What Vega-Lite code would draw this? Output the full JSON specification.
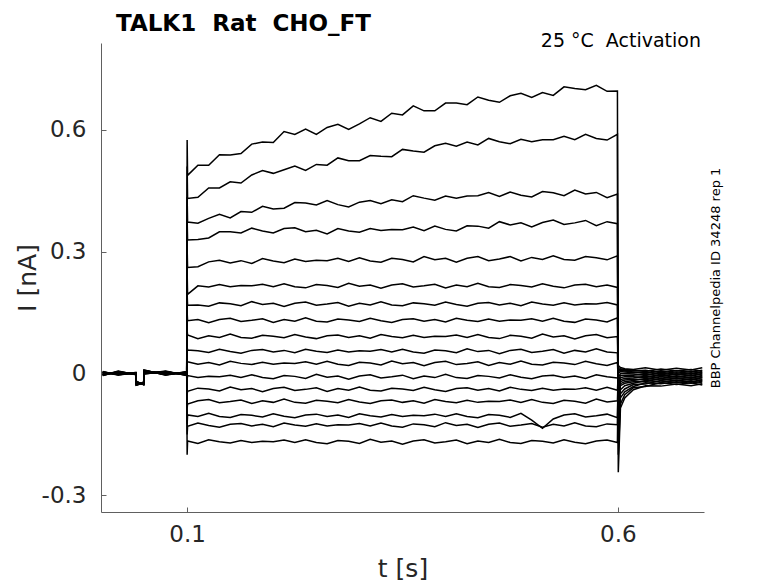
{
"$schema":"https://vega.github.io/schema/vega-lite/v6.json",
"width":603,"height":469,
"autosize":{"type":"none"},
"padding":{"left":101,"top":43,"right":74,"bottom":71},
"background":"white",
"config":{"view":{"stroke":null},"axis":{"labelFont":"DejaVu Sans","titleFont":"DejaVu Sans"}},
"title":{"text":"TALK1\u00a0 Rat\u00a0 CHO_FT","anchor":"start","frame":"group","dx":15,"dy":22,"offset":0,"baseline":"alphabetic","fontSize":23,"font":"DejaVu Sans","fontWeight":"bold","color":"black"},
"resolve":{"axis":{"y":"independent"}},
"layer":[
{"data":{"values":[
{"k":1,"t":0.002,"i":0.004},{"k":1,"t":0.02,"i":-0.003},{"k":1,"t":0.0405,"i":0.002},{"k":1,"t":0.041,"i":-0.02},{"k":1,"t":0.0495,"i":-0.027},{"k":1,"t":0.05,"i":0.008},{"k":1,"t":0.075,"i":-0.003},{"k":1,"t":0.0995,"i":0.004},{"k":1,"t":0.1,"i":0.575},
{"k":1,"t":0.1005,"i":0.488},{"k":1,"t":0.1125,"i":0.513},{"k":1,"t":0.125,"i":0.513},{"k":1,"t":0.1375,"i":0.539},{"k":1,"t":0.15,"i":0.538},{"k":1,"t":0.1625,"i":0.542},{"k":1,"t":0.175,"i":0.565},{"k":1,"t":0.1875,"i":0.57},{"k":1,"t":0.2,"i":0.569},{"k":1,"t":0.2125,"i":0.596},{"k":1,"t":0.225,"i":0.589},{"k":1,"t":0.2375,"i":0.602},{"k":1,"t":0.25,"i":0.589},{"k":1,"t":0.2625,"i":0.606},{"k":1,"t":0.275,"i":0.614},{"k":1,"t":0.2875,"i":0.601},{"k":1,"t":0.3,"i":0.615},{"k":1,"t":0.3125,"i":0.63},{"k":1,"t":0.325,"i":0.621},{"k":1,"t":0.3375,"i":0.641},{"k":1,"t":0.35,"i":0.637},{"k":1,"t":0.3625,"i":0.659},{"k":1,"t":0.375,"i":0.647},{"k":1,"t":0.3875,"i":0.647},{"k":1,"t":0.4,"i":0.666},{"k":1,"t":0.4125,"i":0.666},{"k":1,"t":0.425,"i":0.662},{"k":1,"t":0.4375,"i":0.681},{"k":1,"t":0.45,"i":0.673},{"k":1,"t":0.4625,"i":0.668},{"k":1,"t":0.475,"i":0.684},{"k":1,"t":0.4875,"i":0.69},{"k":1,"t":0.5,"i":0.68},{"k":1,"t":0.5125,"i":0.692},{"k":1,"t":0.525,"i":0.685},{"k":1,"t":0.5375,"i":0.706},{"k":1,"t":0.55,"i":0.702},{"k":1,"t":0.5625,"i":0.699},{"k":1,"t":0.575,"i":0.71},{"k":1,"t":0.5875,"i":0.695},{"k":1,"t":0.5995,"i":0.696},
{"k":1,"t":0.6005,"i":-0.243},{"k":1,"t":0.603,"i":-0.085},{"k":1,"t":0.608,"i":-0.06},{"k":1,"t":0.618,"i":-0.04},{"k":1,"t":0.632,"i":-0.03},{"k":1,"t":0.65,"i":-0.031},{"k":1,"t":0.668,"i":-0.026},{"k":1,"t":0.685,"i":-0.03},{"k":1,"t":0.698,"i":-0.025},
{"k":2,"t":0.002,"i":-0.003},{"k":2,"t":0.02,"i":0.004},{"k":2,"t":0.0405,"i":-0.002},{"k":2,"t":0.041,"i":-0.027},{"k":2,"t":0.0495,"i":-0.024},{"k":2,"t":0.05,"i":0.001},{"k":2,"t":0.075,"i":0.004},{"k":2,"t":0.0995,"i":-0.003},{"k":2,"t":0.1,"i":0.51},
{"k":2,"t":0.1005,"i":0.431},{"k":2,"t":0.1125,"i":0.434},{"k":2,"t":0.125,"i":0.457},{"k":2,"t":0.1375,"i":0.457},{"k":2,"t":0.15,"i":0.472},{"k":2,"t":0.1625,"i":0.469},{"k":2,"t":0.175,"i":0.489},{"k":2,"t":0.1875,"i":0.5},{"k":2,"t":0.2,"i":0.493},{"k":2,"t":0.2125,"i":0.502},{"k":2,"t":0.225,"i":0.511},{"k":2,"t":0.2375,"i":0.5},{"k":2,"t":0.25,"i":0.515},{"k":2,"t":0.2625,"i":0.513},{"k":2,"t":0.275,"i":0.531},{"k":2,"t":0.2875,"i":0.524},{"k":2,"t":0.3,"i":0.524},{"k":2,"t":0.3125,"i":0.537},{"k":2,"t":0.325,"i":0.535},{"k":2,"t":0.3375,"i":0.534},{"k":2,"t":0.35,"i":0.552},{"k":2,"t":0.3625,"i":0.548},{"k":2,"t":0.375,"i":0.545},{"k":2,"t":0.3875,"i":0.561},{"k":2,"t":0.4,"i":0.567},{"k":2,"t":0.4125,"i":0.56},{"k":2,"t":0.425,"i":0.57},{"k":2,"t":0.4375,"i":0.563},{"k":2,"t":0.45,"i":0.579},{"k":2,"t":0.4625,"i":0.571},{"k":2,"t":0.475,"i":0.566},{"k":2,"t":0.4875,"i":0.577},{"k":2,"t":0.5,"i":0.571},{"k":2,"t":0.5125,"i":0.576},{"k":2,"t":0.525,"i":0.576},{"k":2,"t":0.5375,"i":0.584},{"k":2,"t":0.55,"i":0.576},{"k":2,"t":0.5625,"i":0.589},{"k":2,"t":0.575,"i":0.579},{"k":2,"t":0.5875,"i":0.575},{"k":2,"t":0.5995,"i":0.589},
{"k":2,"t":0.6005,"i":-0.2},{"k":2,"t":0.603,"i":-0.075},{"k":2,"t":0.608,"i":-0.052},{"k":2,"t":0.618,"i":-0.035},{"k":2,"t":0.632,"i":-0.032},{"k":2,"t":0.65,"i":-0.022},{"k":2,"t":0.668,"i":-0.027},{"k":2,"t":0.685,"i":-0.023},{"k":2,"t":0.698,"i":-0.028},
{"k":3,"t":0.002,"i":0.002},{"k":3,"t":0.02,"i":-0.001},{"k":3,"t":0.0405,"i":0.001},{"k":3,"t":0.041,"i":-0.022},{"k":3,"t":0.0495,"i":-0.026},{"k":3,"t":0.05,"i":0.006},{"k":3,"t":0.075,"i":-0.001},{"k":3,"t":0.0995,"i":0.002},{"k":3,"t":0.1,"i":0.435},
{"k":3,"t":0.1005,"i":0.373},{"k":3,"t":0.1125,"i":0.37},{"k":3,"t":0.125,"i":0.382},{"k":3,"t":0.1375,"i":0.392},{"k":3,"t":0.15,"i":0.383},{"k":3,"t":0.1625,"i":0.399},{"k":3,"t":0.175,"i":0.397},{"k":3,"t":0.1875,"i":0.412},{"k":3,"t":0.2,"i":0.405},{"k":3,"t":0.2125,"i":0.407},{"k":3,"t":0.225,"i":0.421},{"k":3,"t":0.2375,"i":0.42},{"k":3,"t":0.25,"i":0.415},{"k":3,"t":0.2625,"i":0.426},{"k":3,"t":0.275,"i":0.416},{"k":3,"t":0.2875,"i":0.41},{"k":3,"t":0.3,"i":0.422},{"k":3,"t":0.3125,"i":0.426},{"k":3,"t":0.325,"i":0.418},{"k":3,"t":0.3375,"i":0.428},{"k":3,"t":0.35,"i":0.423},{"k":3,"t":0.3625,"i":0.438},{"k":3,"t":0.375,"i":0.432},{"k":3,"t":0.3875,"i":0.427},{"k":3,"t":0.4,"i":0.437},{"k":3,"t":0.4125,"i":0.432},{"k":3,"t":0.425,"i":0.437},{"k":3,"t":0.4375,"i":0.438},{"k":3,"t":0.45,"i":0.446},{"k":3,"t":0.4625,"i":0.436},{"k":3,"t":0.475,"i":0.447},{"k":3,"t":0.4875,"i":0.439},{"k":3,"t":0.5,"i":0.435},{"k":3,"t":0.5125,"i":0.448},{"k":3,"t":0.525,"i":0.445},{"k":3,"t":0.5375,"i":0.438},{"k":3,"t":0.55,"i":0.452},{"k":3,"t":0.5625,"i":0.442},{"k":3,"t":0.575,"i":0.446},{"k":3,"t":0.5875,"i":0.433},{"k":3,"t":0.5995,"i":0.442},
{"k":3,"t":0.6005,"i":-0.16},{"k":3,"t":0.603,"i":-0.06},{"k":3,"t":0.608,"i":-0.045},{"k":3,"t":0.618,"i":-0.032},{"k":3,"t":0.632,"i":-0.023},{"k":3,"t":0.65,"i":-0.025},{"k":3,"t":0.668,"i":-0.02},{"k":3,"t":0.685,"i":-0.024},{"k":3,"t":0.698,"i":-0.019},
{"k":4,"t":0.002,"i":-0.005},{"k":4,"t":0.02,"i":0.006},{"k":4,"t":0.0405,"i":-0.003},{"k":4,"t":0.041,"i":-0.029},{"k":4,"t":0.0495,"i":-0.023},{"k":4,"t":0.05,"i":-0.001},{"k":4,"t":0.075,"i":0.006},{"k":4,"t":0.0995,"i":-0.005},{"k":4,"t":0.1,"i":0.38},
{"k":4,"t":0.1005,"i":0.329},{"k":4,"t":0.1125,"i":0.33},{"k":4,"t":0.125,"i":0.334},{"k":4,"t":0.1375,"i":0.349},{"k":4,"t":0.15,"i":0.349},{"k":4,"t":0.1625,"i":0.346},{"k":4,"t":0.175,"i":0.358},{"k":4,"t":0.1875,"i":0.351},{"k":4,"t":0.2,"i":0.346},{"k":4,"t":0.2125,"i":0.357},{"k":4,"t":0.225,"i":0.359},{"k":4,"t":0.2375,"i":0.349},{"k":4,"t":0.25,"i":0.353},{"k":4,"t":0.2625,"i":0.344},{"k":4,"t":0.275,"i":0.357},{"k":4,"t":0.2875,"i":0.351},{"k":4,"t":0.3,"i":0.348},{"k":4,"t":0.3125,"i":0.357},{"k":4,"t":0.325,"i":0.352},{"k":4,"t":0.3375,"i":0.355},{"k":4,"t":0.35,"i":0.354},{"k":4,"t":0.3625,"i":0.361},{"k":4,"t":0.375,"i":0.352},{"k":4,"t":0.3875,"i":0.363},{"k":4,"t":0.4,"i":0.355},{"k":4,"t":0.4125,"i":0.351},{"k":4,"t":0.425,"i":0.364},{"k":4,"t":0.4375,"i":0.363},{"k":4,"t":0.45,"i":0.358},{"k":4,"t":0.4625,"i":0.374},{"k":4,"t":0.475,"i":0.366},{"k":4,"t":0.4875,"i":0.371},{"k":4,"t":0.5,"i":0.361},{"k":4,"t":0.5125,"i":0.372},{"k":4,"t":0.525,"i":0.378},{"k":4,"t":0.5375,"i":0.367},{"k":4,"t":0.55,"i":0.371},{"k":4,"t":0.5625,"i":0.377},{"k":4,"t":0.575,"i":0.364},{"k":4,"t":0.5875,"i":0.374},{"k":4,"t":0.5995,"i":0.369},
{"k":4,"t":0.6005,"i":-0.13},{"k":4,"t":0.603,"i":-0.05},{"k":4,"t":0.608,"i":-0.038},{"k":4,"t":0.618,"i":-0.027},{"k":4,"t":0.632,"i":-0.026},{"k":4,"t":0.65,"i":-0.017},{"k":4,"t":0.668,"i":-0.022},{"k":4,"t":0.685,"i":-0.018},{"k":4,"t":0.698,"i":-0.023},
{"k":5,"t":0.002,"i":0.005},{"k":5,"t":0.02,"i":-0.004},{"k":5,"t":0.0405,"i":0.003},{"k":5,"t":0.041,"i":-0.019},{"k":5,"t":0.0495,"i":-0.028},{"k":5,"t":0.05,"i":0.009},{"k":5,"t":0.075,"i":-0.004},{"k":5,"t":0.0995,"i":0.005},{"k":5,"t":0.1,"i":0.31},
{"k":5,"t":0.1005,"i":0.261},{"k":5,"t":0.1125,"i":0.263},{"k":5,"t":0.125,"i":0.275},{"k":5,"t":0.1375,"i":0.279},{"k":5,"t":0.15,"i":0.272},{"k":5,"t":0.1625,"i":0.278},{"k":5,"t":0.175,"i":0.271},{"k":5,"t":0.1875,"i":0.283},{"k":5,"t":0.2,"i":0.277},{"k":5,"t":0.2125,"i":0.273},{"k":5,"t":0.225,"i":0.282},{"k":5,"t":0.2375,"i":0.276},{"k":5,"t":0.25,"i":0.279},{"k":5,"t":0.2625,"i":0.278},{"k":5,"t":0.275,"i":0.284},{"k":5,"t":0.2875,"i":0.276},{"k":5,"t":0.3,"i":0.285},{"k":5,"t":0.3125,"i":0.277},{"k":5,"t":0.325,"i":0.274},{"k":5,"t":0.3375,"i":0.284},{"k":5,"t":0.35,"i":0.281},{"k":5,"t":0.3625,"i":0.275},{"k":5,"t":0.375,"i":0.288},{"k":5,"t":0.3875,"i":0.28},{"k":5,"t":0.4,"i":0.284},{"k":5,"t":0.4125,"i":0.274},{"k":5,"t":0.425,"i":0.284},{"k":5,"t":0.4375,"i":0.288},{"k":5,"t":0.45,"i":0.278},{"k":5,"t":0.4625,"i":0.282},{"k":5,"t":0.475,"i":0.288},{"k":5,"t":0.4875,"i":0.277},{"k":5,"t":0.5,"i":0.286},{"k":5,"t":0.5125,"i":0.281},{"k":5,"t":0.525,"i":0.29},{"k":5,"t":0.5375,"i":0.281},{"k":5,"t":0.55,"i":0.279},{"k":5,"t":0.5625,"i":0.288},{"k":5,"t":0.575,"i":0.285},{"k":5,"t":0.5875,"i":0.28},{"k":5,"t":0.5995,"i":0.29},
{"k":5,"t":0.6005,"i":-0.1},{"k":5,"t":0.603,"i":-0.04},{"k":5,"t":0.608,"i":-0.03},{"k":5,"t":0.618,"i":-0.024},{"k":5,"t":0.632,"i":-0.017},{"k":5,"t":0.65,"i":-0.021},{"k":5,"t":0.668,"i":-0.016},{"k":5,"t":0.685,"i":-0.02},{"k":5,"t":0.698,"i":-0.015},
{"k":6,"t":0.002,"i":0},{"k":6,"t":0.02,"i":0.001},{"k":6,"t":0.0405,"i":0},{"k":6,"t":0.041,"i":-0.024},{"k":6,"t":0.0495,"i":-0.025},{"k":6,"t":0.05,"i":0.004},{"k":6,"t":0.075,"i":0.001},{"k":6,"t":0.0995,"i":0},{"k":6,"t":0.1,"i":0.25},
{"k":6,"t":0.1005,"i":0.195},{"k":6,"t":0.1125,"i":0.216},{"k":6,"t":0.125,"i":0.213},{"k":6,"t":0.1375,"i":0.219},{"k":6,"t":0.15,"i":0.214},{"k":6,"t":0.1625,"i":0.217},{"k":6,"t":0.175,"i":0.216},{"k":6,"t":0.1875,"i":0.22},{"k":6,"t":0.2,"i":0.214},{"k":6,"t":0.2125,"i":0.221},{"k":6,"t":0.225,"i":0.214},{"k":6,"t":0.2375,"i":0.211},{"k":6,"t":0.25,"i":0.219},{"k":6,"t":0.2625,"i":0.217},{"k":6,"t":0.275,"i":0.212},{"k":6,"t":0.2875,"i":0.222},{"k":6,"t":0.3,"i":0.215},{"k":6,"t":0.3125,"i":0.218},{"k":6,"t":0.325,"i":0.21},{"k":6,"t":0.3375,"i":0.218},{"k":6,"t":0.35,"i":0.221},{"k":6,"t":0.3625,"i":0.213},{"k":6,"t":0.375,"i":0.216},{"k":6,"t":0.3875,"i":0.22},{"k":6,"t":0.4,"i":0.211},{"k":6,"t":0.4125,"i":0.218},{"k":6,"t":0.425,"i":0.214},{"k":6,"t":0.4375,"i":0.222},{"k":6,"t":0.45,"i":0.214},{"k":6,"t":0.4625,"i":0.212},{"k":6,"t":0.475,"i":0.219},{"k":6,"t":0.4875,"i":0.217},{"k":6,"t":0.5,"i":0.213},{"k":6,"t":0.5125,"i":0.221},{"k":6,"t":0.525,"i":0.215},{"k":6,"t":0.5375,"i":0.211},{"k":6,"t":0.55,"i":0.218},{"k":6,"t":0.5625,"i":0.22},{"k":6,"t":0.575,"i":0.214},{"k":6,"t":0.5875,"i":0.218},{"k":6,"t":0.5995,"i":0.212},
{"k":6,"t":0.6005,"i":-0.08},{"k":6,"t":0.603,"i":-0.03},{"k":6,"t":0.608,"i":-0.024},{"k":6,"t":0.618,"i":-0.02},{"k":6,"t":0.632,"i":-0.02},{"k":6,"t":0.65,"i":-0.012},{"k":6,"t":0.668,"i":-0.017},{"k":6,"t":0.685,"i":-0.013},{"k":6,"t":0.698,"i":-0.018},
{"k":7,"t":0.002,"i":-0.002},{"k":7,"t":0.02,"i":0.003},{"k":7,"t":0.0405,"i":-0.001},{"k":7,"t":0.041,"i":-0.026},{"k":7,"t":0.0495,"i":-0.024},{"k":7,"t":0.05,"i":0.002},{"k":7,"t":0.075,"i":0.003},{"k":7,"t":0.0995,"i":-0.002},{"k":7,"t":0.1,"i":0.195},
{"k":7,"t":0.1005,"i":0.168},{"k":7,"t":0.1125,"i":0.169},{"k":7,"t":0.125,"i":0.166},{"k":7,"t":0.1375,"i":0.174},{"k":7,"t":0.15,"i":0.172},{"k":7,"t":0.1625,"i":0.167},{"k":7,"t":0.175,"i":0.177},{"k":7,"t":0.1875,"i":0.17},{"k":7,"t":0.2,"i":0.173},{"k":7,"t":0.2125,"i":0.165},{"k":7,"t":0.225,"i":0.173},{"k":7,"t":0.2375,"i":0.176},{"k":7,"t":0.25,"i":0.168},{"k":7,"t":0.2625,"i":0.171},{"k":7,"t":0.275,"i":0.175},{"k":7,"t":0.2875,"i":0.166},{"k":7,"t":0.3,"i":0.173},{"k":7,"t":0.3125,"i":0.169},{"k":7,"t":0.325,"i":0.177},{"k":7,"t":0.3375,"i":0.169},{"k":7,"t":0.35,"i":0.167},{"k":7,"t":0.3625,"i":0.174},{"k":7,"t":0.375,"i":0.172},{"k":7,"t":0.3875,"i":0.168},{"k":7,"t":0.4,"i":0.176},{"k":7,"t":0.4125,"i":0.17},{"k":7,"t":0.425,"i":0.166},{"k":7,"t":0.4375,"i":0.173},{"k":7,"t":0.45,"i":0.175},{"k":7,"t":0.4625,"i":0.169},{"k":7,"t":0.475,"i":0.173},{"k":7,"t":0.4875,"i":0.167},{"k":7,"t":0.5,"i":0.176},{"k":7,"t":0.5125,"i":0.171},{"k":7,"t":0.525,"i":0.168},{"k":7,"t":0.5375,"i":0.174},{"k":7,"t":0.55,"i":0.169},{"k":7,"t":0.5625,"i":0.172},{"k":7,"t":0.575,"i":0.171},{"k":7,"t":0.5875,"i":0.175},{"k":7,"t":0.5995,"i":0.169},
{"k":7,"t":0.6005,"i":-0.06},{"k":7,"t":0.603,"i":-0.025},{"k":7,"t":0.608,"i":-0.02},{"k":7,"t":0.618,"i":-0.017},{"k":7,"t":0.632,"i":-0.012},{"k":7,"t":0.65,"i":-0.016},{"k":7,"t":0.668,"i":-0.011},{"k":7,"t":0.685,"i":-0.015},{"k":7,"t":0.698,"i":-0.01},
{"k":8,"t":0.002,"i":0.003},{"k":8,"t":0.02,"i":-0.002},{"k":8,"t":0.0405,"i":0.002},{"k":8,"t":0.041,"i":-0.021},{"k":8,"t":0.0495,"i":-0.027},{"k":8,"t":0.05,"i":0.007},{"k":8,"t":0.075,"i":-0.002},{"k":8,"t":0.0995,"i":0.003},{"k":8,"t":0.1,"i":0.15},
{"k":8,"t":0.1005,"i":0.13},{"k":8,"t":0.1125,"i":0.133},{"k":8,"t":0.125,"i":0.125},{"k":8,"t":0.1375,"i":0.133},{"k":8,"t":0.15,"i":0.136},{"k":8,"t":0.1625,"i":0.128},{"k":8,"t":0.175,"i":0.131},{"k":8,"t":0.1875,"i":0.135},{"k":8,"t":0.2,"i":0.126},{"k":8,"t":0.2125,"i":0.133},{"k":8,"t":0.225,"i":0.129},{"k":8,"t":0.2375,"i":0.137},{"k":8,"t":0.25,"i":0.129},{"k":8,"t":0.2625,"i":0.127},{"k":8,"t":0.275,"i":0.134},{"k":8,"t":0.2875,"i":0.132},{"k":8,"t":0.3,"i":0.128},{"k":8,"t":0.3125,"i":0.136},{"k":8,"t":0.325,"i":0.13},{"k":8,"t":0.3375,"i":0.126},{"k":8,"t":0.35,"i":0.133},{"k":8,"t":0.3625,"i":0.135},{"k":8,"t":0.375,"i":0.129},{"k":8,"t":0.3875,"i":0.133},{"k":8,"t":0.4,"i":0.127},{"k":8,"t":0.4125,"i":0.136},{"k":8,"t":0.425,"i":0.131},{"k":8,"t":0.4375,"i":0.128},{"k":8,"t":0.45,"i":0.134},{"k":8,"t":0.4625,"i":0.129},{"k":8,"t":0.475,"i":0.132},{"k":8,"t":0.4875,"i":0.131},{"k":8,"t":0.5,"i":0.135},{"k":8,"t":0.5125,"i":0.129},{"k":8,"t":0.525,"i":0.136},{"k":8,"t":0.5375,"i":0.129},{"k":8,"t":0.55,"i":0.126},{"k":8,"t":0.5625,"i":0.134},{"k":8,"t":0.575,"i":0.132},{"k":8,"t":0.5875,"i":0.127},{"k":8,"t":0.5995,"i":0.137},
{"k":8,"t":0.6005,"i":-0.05},{"k":8,"t":0.603,"i":-0.02},{"k":8,"t":0.608,"i":-0.016},{"k":8,"t":0.618,"i":-0.014},{"k":8,"t":0.632,"i":-0.015},{"k":8,"t":0.65,"i":-0.008},{"k":8,"t":0.668,"i":-0.013},{"k":8,"t":0.685,"i":-0.009},{"k":8,"t":0.698,"i":-0.014},
{"k":9,"t":0.002,"i":-0.004},{"k":9,"t":0.02,"i":0.005},{"k":9,"t":0.0405,"i":-0.002},{"k":9,"t":0.041,"i":-0.028},{"k":9,"t":0.0495,"i":-0.023},{"k":9,"t":0.05,"i":0},{"k":9,"t":0.075,"i":0.005},{"k":9,"t":0.0995,"i":-0.004},{"k":9,"t":0.1,"i":0.105},
{"k":9,"t":0.1005,"i":0.095},{"k":9,"t":0.1125,"i":0.086},{"k":9,"t":0.125,"i":0.093},{"k":9,"t":0.1375,"i":0.089},{"k":9,"t":0.15,"i":0.097},{"k":9,"t":0.1625,"i":0.089},{"k":9,"t":0.175,"i":0.087},{"k":9,"t":0.1875,"i":0.094},{"k":9,"t":0.2,"i":0.092},{"k":9,"t":0.2125,"i":0.088},{"k":9,"t":0.225,"i":0.096},{"k":9,"t":0.2375,"i":0.09},{"k":9,"t":0.25,"i":0.086},{"k":9,"t":0.2625,"i":0.093},{"k":9,"t":0.275,"i":0.095},{"k":9,"t":0.2875,"i":0.089},{"k":9,"t":0.3,"i":0.093},{"k":9,"t":0.3125,"i":0.087},{"k":9,"t":0.325,"i":0.096},{"k":9,"t":0.3375,"i":0.091},{"k":9,"t":0.35,"i":0.088},{"k":9,"t":0.3625,"i":0.094},{"k":9,"t":0.375,"i":0.089},{"k":9,"t":0.3875,"i":0.092},{"k":9,"t":0.4,"i":0.091},{"k":9,"t":0.4125,"i":0.095},{"k":9,"t":0.425,"i":0.089},{"k":9,"t":0.4375,"i":0.096},{"k":9,"t":0.45,"i":0.089},{"k":9,"t":0.4625,"i":0.086},{"k":9,"t":0.475,"i":0.094},{"k":9,"t":0.4875,"i":0.092},{"k":9,"t":0.5,"i":0.087},{"k":9,"t":0.5125,"i":0.097},{"k":9,"t":0.525,"i":0.09},{"k":9,"t":0.5375,"i":0.093},{"k":9,"t":0.55,"i":0.085},{"k":9,"t":0.5625,"i":0.093},{"k":9,"t":0.575,"i":0.096},{"k":9,"t":0.5875,"i":0.088},{"k":9,"t":0.5995,"i":0.091},
{"k":9,"t":0.6005,"i":-0.04},{"k":9,"t":0.603,"i":-0.015},{"k":9,"t":0.608,"i":-0.012},{"k":9,"t":0.618,"i":-0.011},{"k":9,"t":0.632,"i":-0.007},{"k":9,"t":0.65,"i":-0.012},{"k":9,"t":0.668,"i":-0.007},{"k":9,"t":0.685,"i":-0.011},{"k":9,"t":0.698,"i":-0.006},
{"k":10,"t":0.002,"i":0.001},{"k":10,"t":0.02,"i":0},{"k":10,"t":0.0405,"i":0.001},{"k":10,"t":0.041,"i":-0.023},{"k":10,"t":0.0495,"i":-0.026},{"k":10,"t":0.05,"i":0.005},{"k":10,"t":0.075,"i":0},{"k":10,"t":0.0995,"i":0.001},{"k":10,"t":0.1,"i":0.065},
{"k":10,"t":0.1005,"i":0.058},{"k":10,"t":0.1125,"i":0.056},{"k":10,"t":0.125,"i":0.052},{"k":10,"t":0.1375,"i":0.06},{"k":10,"t":0.15,"i":0.054},{"k":10,"t":0.1625,"i":0.05},{"k":10,"t":0.175,"i":0.057},{"k":10,"t":0.1875,"i":0.059},{"k":10,"t":0.2,"i":0.053},{"k":10,"t":0.2125,"i":0.057},{"k":10,"t":0.225,"i":0.051},{"k":10,"t":0.2375,"i":0.06},{"k":10,"t":0.25,"i":0.055},{"k":10,"t":0.2625,"i":0.052},{"k":10,"t":0.275,"i":0.058},{"k":10,"t":0.2875,"i":0.053},{"k":10,"t":0.3,"i":0.056},{"k":10,"t":0.3125,"i":0.055},{"k":10,"t":0.325,"i":0.059},{"k":10,"t":0.3375,"i":0.053},{"k":10,"t":0.35,"i":0.06},{"k":10,"t":0.3625,"i":0.053},{"k":10,"t":0.375,"i":0.05},{"k":10,"t":0.3875,"i":0.058},{"k":10,"t":0.4,"i":0.056},{"k":10,"t":0.4125,"i":0.051},{"k":10,"t":0.425,"i":0.061},{"k":10,"t":0.4375,"i":0.054},{"k":10,"t":0.45,"i":0.057},{"k":10,"t":0.4625,"i":0.049},{"k":10,"t":0.475,"i":0.057},{"k":10,"t":0.4875,"i":0.06},{"k":10,"t":0.5,"i":0.052},{"k":10,"t":0.5125,"i":0.055},{"k":10,"t":0.525,"i":0.059},{"k":10,"t":0.5375,"i":0.05},{"k":10,"t":0.55,"i":0.057},{"k":10,"t":0.5625,"i":0.053},{"k":10,"t":0.575,"i":0.061},{"k":10,"t":0.5875,"i":0.053},{"k":10,"t":0.5995,"i":0.051},
{"k":10,"t":0.6005,"i":-0.03},{"k":10,"t":0.603,"i":-0.01},{"k":10,"t":0.608,"i":-0.008},{"k":10,"t":0.618,"i":-0.008},{"k":10,"t":0.632,"i":-0.01},{"k":10,"t":0.65,"i":-0.004},{"k":10,"t":0.668,"i":-0.009},{"k":10,"t":0.685,"i":-0.005},{"k":10,"t":0.698,"i":-0.01},
{"k":11,"t":0.002,"i":-0.001},{"k":11,"t":0.02,"i":0.002},{"k":11,"t":0.0405,"i":0},{"k":11,"t":0.041,"i":-0.025},{"k":11,"t":0.0495,"i":-0.025},{"k":11,"t":0.05,"i":0.003},{"k":11,"t":0.075,"i":0.002},{"k":11,"t":0.0995,"i":-0.001},{"k":11,"t":0.1,"i":0.03},
{"k":11,"t":0.1005,"i":0.029},{"k":11,"t":0.1125,"i":0.023},{"k":11,"t":0.125,"i":0.027},{"k":11,"t":0.1375,"i":0.021},{"k":11,"t":0.15,"i":0.03},{"k":11,"t":0.1625,"i":0.025},{"k":11,"t":0.175,"i":0.022},{"k":11,"t":0.1875,"i":0.028},{"k":11,"t":0.2,"i":0.023},{"k":11,"t":0.2125,"i":0.026},{"k":11,"t":0.225,"i":0.025},{"k":11,"t":0.2375,"i":0.029},{"k":11,"t":0.25,"i":0.023},{"k":11,"t":0.2625,"i":0.03},{"k":11,"t":0.275,"i":0.023},{"k":11,"t":0.2875,"i":0.02},{"k":11,"t":0.3,"i":0.028},{"k":11,"t":0.3125,"i":0.026},{"k":11,"t":0.325,"i":0.021},{"k":11,"t":0.3375,"i":0.031},{"k":11,"t":0.35,"i":0.024},{"k":11,"t":0.3625,"i":0.027},{"k":11,"t":0.375,"i":0.019},{"k":11,"t":0.3875,"i":0.027},{"k":11,"t":0.4,"i":0.03},{"k":11,"t":0.4125,"i":0.022},{"k":11,"t":0.425,"i":0.025},{"k":11,"t":0.4375,"i":0.029},{"k":11,"t":0.45,"i":0.02},{"k":11,"t":0.4625,"i":0.027},{"k":11,"t":0.475,"i":0.023},{"k":11,"t":0.4875,"i":0.031},{"k":11,"t":0.5,"i":0.023},{"k":11,"t":0.5125,"i":0.021},{"k":11,"t":0.525,"i":0.028},{"k":11,"t":0.5375,"i":0.026},{"k":11,"t":0.55,"i":0.022},{"k":11,"t":0.5625,"i":0.03},{"k":11,"t":0.575,"i":0.024},{"k":11,"t":0.5875,"i":0.02},{"k":11,"t":0.5995,"i":0.027},
{"k":11,"t":0.6005,"i":-0.02},{"k":11,"t":0.603,"i":-0.005},{"k":11,"t":0.608,"i":-0.004},{"k":11,"t":0.618,"i":-0.004},{"k":11,"t":0.632,"i":-0.001},{"k":11,"t":0.65,"i":-0.007},{"k":11,"t":0.668,"i":-0.002},{"k":11,"t":0.685,"i":-0.006},{"k":11,"t":0.698,"i":-0.001},
{"k":12,"t":0.002,"i":0.004},{"k":12,"t":0.02,"i":-0.002},{"k":12,"t":0.0405,"i":0.001},{"k":12,"t":0.041,"i":-0.021},{"k":12,"t":0.0495,"i":-0.026},{"k":12,"t":0.05,"i":0.007},{"k":12,"t":0.075,"i":-0.003},{"k":12,"t":0.0995,"i":0.003},{"k":12,"t":0.1,"i":-0.015},
{"k":12,"t":0.1005,"i":-0.005},{"k":12,"t":0.1125,"i":-0.01},{"k":12,"t":0.125,"i":-0.007},{"k":12,"t":0.1375,"i":-0.008},{"k":12,"t":0.15,"i":-0.004},{"k":12,"t":0.1625,"i":-0.01},{"k":12,"t":0.175,"i":-0.003},{"k":12,"t":0.1875,"i":-0.01},{"k":12,"t":0.2,"i":-0.013},{"k":12,"t":0.2125,"i":-0.005},{"k":12,"t":0.225,"i":-0.007},{"k":12,"t":0.2375,"i":-0.012},{"k":12,"t":0.25,"i":-0.002},{"k":12,"t":0.2625,"i":-0.009},{"k":12,"t":0.275,"i":-0.006},{"k":12,"t":0.2875,"i":-0.014},{"k":12,"t":0.3,"i":-0.006},{"k":12,"t":0.3125,"i":-0.003},{"k":12,"t":0.325,"i":-0.011},{"k":12,"t":0.3375,"i":-0.008},{"k":12,"t":0.35,"i":-0.004},{"k":12,"t":0.3625,"i":-0.013},{"k":12,"t":0.375,"i":-0.006},{"k":12,"t":0.3875,"i":-0.01},{"k":12,"t":0.4,"i":-0.002},{"k":12,"t":0.4125,"i":-0.01},{"k":12,"t":0.425,"i":-0.012},{"k":12,"t":0.4375,"i":-0.005},{"k":12,"t":0.45,"i":-0.007},{"k":12,"t":0.4625,"i":-0.011},{"k":12,"t":0.475,"i":-0.003},{"k":12,"t":0.4875,"i":-0.009},{"k":12,"t":0.5,"i":-0.013},{"k":12,"t":0.5125,"i":-0.006},{"k":12,"t":0.525,"i":-0.004},{"k":12,"t":0.5375,"i":-0.01},{"k":12,"t":0.55,"i":-0.006},{"k":12,"t":0.5625,"i":-0.012},{"k":12,"t":0.575,"i":-0.003},{"k":12,"t":0.5875,"i":-0.008},{"k":12,"t":0.5995,"i":-0.011},
{"k":12,"t":0.6005,"i":-0.01},{"k":12,"t":0.603,"i":0},{"k":12,"t":0.608,"i":0},{"k":12,"t":0.618,"i":-0.001},{"k":12,"t":0.632,"i":-0.005},{"k":12,"t":0.65,"i":0.001},{"k":12,"t":0.668,"i":-0.004},{"k":12,"t":0.685,"i":0},{"k":12,"t":0.698,"i":-0.005},
{"k":13,"t":0.002,"i":-0.003},{"k":13,"t":0.02,"i":0.003},{"k":13,"t":0.0405,"i":-0.001},{"k":13,"t":0.041,"i":-0.027},{"k":13,"t":0.0495,"i":-0.023},{"k":13,"t":0.05,"i":0.002},{"k":13,"t":0.075,"i":0.004},{"k":13,"t":0.0995,"i":-0.002},{"k":13,"t":0.1,"i":-0.05},
{"k":13,"t":0.1005,"i":-0.044},{"k":13,"t":0.1125,"i":-0.036},{"k":13,"t":0.125,"i":-0.038},{"k":13,"t":0.1375,"i":-0.043},{"k":13,"t":0.15,"i":-0.033},{"k":13,"t":0.1625,"i":-0.04},{"k":13,"t":0.175,"i":-0.037},{"k":13,"t":0.1875,"i":-0.045},{"k":13,"t":0.2,"i":-0.037},{"k":13,"t":0.2125,"i":-0.034},{"k":13,"t":0.225,"i":-0.042},{"k":13,"t":0.2375,"i":-0.039},{"k":13,"t":0.25,"i":-0.035},{"k":13,"t":0.2625,"i":-0.044},{"k":13,"t":0.275,"i":-0.037},{"k":13,"t":0.2875,"i":-0.041},{"k":13,"t":0.3,"i":-0.033},{"k":13,"t":0.3125,"i":-0.041},{"k":13,"t":0.325,"i":-0.043},{"k":13,"t":0.3375,"i":-0.036},{"k":13,"t":0.35,"i":-0.038},{"k":13,"t":0.3625,"i":-0.042},{"k":13,"t":0.375,"i":-0.034},{"k":13,"t":0.3875,"i":-0.04},{"k":13,"t":0.4,"i":-0.044},{"k":13,"t":0.4125,"i":-0.037},{"k":13,"t":0.425,"i":-0.035},{"k":13,"t":0.4375,"i":-0.041},{"k":13,"t":0.45,"i":-0.037},{"k":13,"t":0.4625,"i":-0.043},{"k":13,"t":0.475,"i":-0.034},{"k":13,"t":0.4875,"i":-0.039},{"k":13,"t":0.5,"i":-0.042},{"k":13,"t":0.5125,"i":-0.036},{"k":13,"t":0.525,"i":-0.041},{"k":13,"t":0.5375,"i":-0.038},{"k":13,"t":0.55,"i":-0.039},{"k":13,"t":0.5625,"i":-0.035},{"k":13,"t":0.575,"i":-0.041},{"k":13,"t":0.5875,"i":-0.034},{"k":13,"t":0.5995,"i":-0.041},
{"k":13,"t":0.6005,"i":0},{"k":13,"t":0.603,"i":0.005},{"k":13,"t":0.608,"i":0.004},{"k":13,"t":0.618,"i":0.002},{"k":13,"t":0.632,"i":0.004},{"k":13,"t":0.65,"i":-0.003},{"k":13,"t":0.668,"i":0.002},{"k":13,"t":0.685,"i":-0.002},{"k":13,"t":0.698,"i":0.003},
{"k":14,"t":0.002,"i":0.002},{"k":14,"t":0.02,"i":-0.002},{"k":14,"t":0.0405,"i":0.002},{"k":14,"t":0.041,"i":-0.023},{"k":14,"t":0.0495,"i":-0.026},{"k":14,"t":0.05,"i":0.005},{"k":14,"t":0.075,"i":-0.001},{"k":14,"t":0.0995,"i":0.003},{"k":14,"t":0.1,"i":-0.085},
{"k":14,"t":0.1005,"i":-0.075},{"k":14,"t":0.1125,"i":-0.067},{"k":14,"t":0.125,"i":-0.064},{"k":14,"t":0.1375,"i":-0.072},{"k":14,"t":0.15,"i":-0.069},{"k":14,"t":0.1625,"i":-0.065},{"k":14,"t":0.175,"i":-0.074},{"k":14,"t":0.1875,"i":-0.067},{"k":14,"t":0.2,"i":-0.071},{"k":14,"t":0.2125,"i":-0.063},{"k":14,"t":0.225,"i":-0.071},{"k":14,"t":0.2375,"i":-0.073},{"k":14,"t":0.25,"i":-0.066},{"k":14,"t":0.2625,"i":-0.068},{"k":14,"t":0.275,"i":-0.072},{"k":14,"t":0.2875,"i":-0.064},{"k":14,"t":0.3,"i":-0.07},{"k":14,"t":0.3125,"i":-0.074},{"k":14,"t":0.325,"i":-0.067},{"k":14,"t":0.3375,"i":-0.065},{"k":14,"t":0.35,"i":-0.071},{"k":14,"t":0.3625,"i":-0.067},{"k":14,"t":0.375,"i":-0.073},{"k":14,"t":0.3875,"i":-0.064},{"k":14,"t":0.4,"i":-0.069},{"k":14,"t":0.4125,"i":-0.072},{"k":14,"t":0.425,"i":-0.066},{"k":14,"t":0.4375,"i":-0.071},{"k":14,"t":0.45,"i":-0.068},{"k":14,"t":0.4625,"i":-0.069},{"k":14,"t":0.475,"i":-0.065},{"k":14,"t":0.4875,"i":-0.071},{"k":14,"t":0.5,"i":-0.064},{"k":14,"t":0.5125,"i":-0.071},{"k":14,"t":0.525,"i":-0.074},{"k":14,"t":0.5375,"i":-0.066},{"k":14,"t":0.55,"i":-0.068},{"k":14,"t":0.5625,"i":-0.073},{"k":14,"t":0.575,"i":-0.063},{"k":14,"t":0.5875,"i":-0.07},{"k":14,"t":0.5995,"i":-0.067},
{"k":14,"t":0.6005,"i":0.005},{"k":14,"t":0.603,"i":0.008},{"k":14,"t":0.608,"i":0.006},{"k":14,"t":0.618,"i":0.004},{"k":14,"t":0.632,"i":0},{"k":14,"t":0.65,"i":0.006},{"k":14,"t":0.668,"i":0.001},{"k":14,"t":0.685,"i":0.005},{"k":14,"t":0.698,"i":0},
{"k":15,"t":0.002,"i":-0.005},{"k":15,"t":0.02,"i":0.005},{"k":15,"t":0.0405,"i":-0.002},{"k":15,"t":0.041,"i":-0.028},{"k":15,"t":0.0495,"i":-0.022},{"k":15,"t":0.05,"i":-0.001},{"k":15,"t":0.075,"i":0.005},{"k":15,"t":0.0995,"i":-0.004},{"k":15,"t":0.1,"i":-0.125},
{"k":15,"t":0.1005,"i":-0.102},{"k":15,"t":0.1125,"i":-0.106},{"k":15,"t":0.125,"i":-0.098},{"k":15,"t":0.1375,"i":-0.106},{"k":15,"t":0.15,"i":-0.108},{"k":15,"t":0.1625,"i":-0.101},{"k":15,"t":0.175,"i":-0.103},{"k":15,"t":0.1875,"i":-0.107},{"k":15,"t":0.2,"i":-0.099},{"k":15,"t":0.2125,"i":-0.105},{"k":15,"t":0.225,"i":-0.109},{"k":15,"t":0.2375,"i":-0.102},{"k":15,"t":0.25,"i":-0.1},{"k":15,"t":0.2625,"i":-0.106},{"k":15,"t":0.275,"i":-0.102},{"k":15,"t":0.2875,"i":-0.108},{"k":15,"t":0.3,"i":-0.099},{"k":15,"t":0.3125,"i":-0.104},{"k":15,"t":0.325,"i":-0.107},{"k":15,"t":0.3375,"i":-0.101},{"k":15,"t":0.35,"i":-0.106},{"k":15,"t":0.3625,"i":-0.103},{"k":15,"t":0.375,"i":-0.104},{"k":15,"t":0.3875,"i":-0.1},{"k":15,"t":0.4,"i":-0.106},{"k":15,"t":0.4125,"i":-0.099},{"k":15,"t":0.425,"i":-0.106},{"k":15,"t":0.4375,"i":-0.109},{"k":15,"t":0.45,"i":-0.101},{"k":15,"t":0.4625,"i":-0.103},{"k":15,"t":0.475,"i":-0.108},{"k":15,"t":0.4875,"i":-0.098},{"k":15,"t":0.5,"i":-0.115},{"k":15,"t":0.5125,"i":-0.135},{"k":15,"t":0.525,"i":-0.112},{"k":15,"t":0.5375,"i":-0.102},{"k":15,"t":0.55,"i":-0.099},{"k":15,"t":0.5625,"i":-0.107},{"k":15,"t":0.575,"i":-0.104},{"k":15,"t":0.5875,"i":-0.1},{"k":15,"t":0.5995,"i":-0.109},
{"k":15,"t":0.6005,"i":0.01},{"k":15,"t":0.603,"i":0.01},{"k":15,"t":0.608,"i":0.008},{"k":15,"t":0.618,"i":0.006},{"k":15,"t":0.632,"i":0.008},{"k":15,"t":0.65,"i":0.002},{"k":15,"t":0.668,"i":0.007},{"k":15,"t":0.685,"i":0.003},{"k":15,"t":0.698,"i":0.008},
{"k":16,"t":0.002,"i":0.003},{"k":16,"t":0.02,"i":-0.001},{"k":16,"t":0.0405,"i":0.001},{"k":16,"t":0.041,"i":-0.022},{"k":16,"t":0.0495,"i":-0.027},{"k":16,"t":0.05,"i":0.007},{"k":16,"t":0.075,"i":-0.002},{"k":16,"t":0.0995,"i":0.002},{"k":16,"t":0.1,"i":-0.15},
{"k":16,"t":0.1005,"i":-0.13},{"k":16,"t":0.1125,"i":-0.122},{"k":16,"t":0.125,"i":-0.128},{"k":16,"t":0.1375,"i":-0.132},{"k":16,"t":0.15,"i":-0.125},{"k":16,"t":0.1625,"i":-0.123},{"k":16,"t":0.175,"i":-0.129},{"k":16,"t":0.1875,"i":-0.125},{"k":16,"t":0.2,"i":-0.131},{"k":16,"t":0.2125,"i":-0.122},{"k":16,"t":0.225,"i":-0.127},{"k":16,"t":0.2375,"i":-0.13},{"k":16,"t":0.25,"i":-0.124},{"k":16,"t":0.2625,"i":-0.129},{"k":16,"t":0.275,"i":-0.126},{"k":16,"t":0.2875,"i":-0.127},{"k":16,"t":0.3,"i":-0.123},{"k":16,"t":0.3125,"i":-0.129},{"k":16,"t":0.325,"i":-0.122},{"k":16,"t":0.3375,"i":-0.129},{"k":16,"t":0.35,"i":-0.132},{"k":16,"t":0.3625,"i":-0.124},{"k":16,"t":0.375,"i":-0.126},{"k":16,"t":0.3875,"i":-0.131},{"k":16,"t":0.4,"i":-0.121},{"k":16,"t":0.4125,"i":-0.128},{"k":16,"t":0.425,"i":-0.125},{"k":16,"t":0.4375,"i":-0.133},{"k":16,"t":0.45,"i":-0.125},{"k":16,"t":0.4625,"i":-0.122},{"k":16,"t":0.475,"i":-0.13},{"k":16,"t":0.4875,"i":-0.127},{"k":16,"t":0.5,"i":-0.123},{"k":16,"t":0.5125,"i":-0.132},{"k":16,"t":0.525,"i":-0.125},{"k":16,"t":0.5375,"i":-0.129},{"k":16,"t":0.55,"i":-0.121},{"k":16,"t":0.5625,"i":-0.129},{"k":16,"t":0.575,"i":-0.131},{"k":16,"t":0.5875,"i":-0.124},{"k":16,"t":0.5995,"i":-0.126},
{"k":16,"t":0.6005,"i":0.015},{"k":16,"t":0.603,"i":0.012},{"k":16,"t":0.608,"i":0.01},{"k":16,"t":0.618,"i":0.008},{"k":16,"t":0.632,"i":0.005},{"k":16,"t":0.65,"i":0.011},{"k":16,"t":0.668,"i":0.006},{"k":16,"t":0.685,"i":0.01},{"k":16,"t":0.698,"i":0.005},
{"k":17,"t":0.002,"i":0.001},{"k":17,"t":0.02,"i":0.002},{"k":17,"t":0.0405,"i":-0.001},{"k":17,"t":0.041,"i":-0.025},{"k":17,"t":0.0495,"i":-0.024},{"k":17,"t":0.05,"i":0.004},{"k":17,"t":0.075,"i":0.001},{"k":17,"t":0.0995,"i":-0.001},{"k":17,"t":0.1,"i":-0.2},
{"k":17,"t":0.1005,"i":-0.166},{"k":17,"t":0.1125,"i":-0.172},{"k":17,"t":0.125,"i":-0.163},{"k":17,"t":0.1375,"i":-0.168},{"k":17,"t":0.15,"i":-0.171},{"k":17,"t":0.1625,"i":-0.165},{"k":17,"t":0.175,"i":-0.17},{"k":17,"t":0.1875,"i":-0.167},{"k":17,"t":0.2,"i":-0.168},{"k":17,"t":0.2125,"i":-0.164},{"k":17,"t":0.225,"i":-0.17},{"k":17,"t":0.2375,"i":-0.163},{"k":17,"t":0.25,"i":-0.17},{"k":17,"t":0.2625,"i":-0.173},{"k":17,"t":0.275,"i":-0.165},{"k":17,"t":0.2875,"i":-0.167},{"k":17,"t":0.3,"i":-0.172},{"k":17,"t":0.3125,"i":-0.162},{"k":17,"t":0.325,"i":-0.169},{"k":17,"t":0.3375,"i":-0.166},{"k":17,"t":0.35,"i":-0.174},{"k":17,"t":0.3625,"i":-0.166},{"k":17,"t":0.375,"i":-0.163},{"k":17,"t":0.3875,"i":-0.171},{"k":17,"t":0.4,"i":-0.168},{"k":17,"t":0.4125,"i":-0.164},{"k":17,"t":0.425,"i":-0.173},{"k":17,"t":0.4375,"i":-0.166},{"k":17,"t":0.45,"i":-0.17},{"k":17,"t":0.4625,"i":-0.162},{"k":17,"t":0.475,"i":-0.17},{"k":17,"t":0.4875,"i":-0.172},{"k":17,"t":0.5,"i":-0.165},{"k":17,"t":0.5125,"i":-0.167},{"k":17,"t":0.525,"i":-0.171},{"k":17,"t":0.5375,"i":-0.163},{"k":17,"t":0.55,"i":-0.169},{"k":17,"t":0.5625,"i":-0.173},{"k":17,"t":0.575,"i":-0.166},{"k":17,"t":0.5875,"i":-0.164},{"k":17,"t":0.5995,"i":-0.17},
{"k":17,"t":0.6005,"i":0.02},{"k":17,"t":0.603,"i":0.015},{"k":17,"t":0.608,"i":0.012},{"k":17,"t":0.618,"i":0.01},{"k":17,"t":0.632,"i":0.014},{"k":17,"t":0.65,"i":0.008},{"k":17,"t":0.668,"i":0.013},{"k":17,"t":0.685,"i":0.009},{"k":17,"t":0.698,"i":0.014}
]},
"mark":{"type":"line","color":"black","strokeWidth":1.5,"interpolate":"linear"},
"encoding":{
"x":{"field":"t","type":"quantitative","scale":{"domain":[0,0.7],"nice":false,"zero":false},
"axis":{"values":[0.1,0.6],"format":"~g","title":"t [s]","grid":false,"tickSize":-5,"labelPadding":16,"labelFontSize":23,"labelColor":"#262626","titleFontSize":25,"titleFontWeight":"normal","titleColor":"#262626","titlePadding":10,"domainColor":"#606060","tickColor":"#606060","labelFlush":false}},
"y":{"field":"i","type":"quantitative","scale":{"domain":[-0.341,0.814],"nice":false,"zero":false},
"axis":{"orient":"left","values":[-0.3,0,0.3,0.6],"labelExpr":"datum.value < 0 ? '-' + format(-datum.value, '~g') : format(datum.value, '~g')","title":"I [nA]","grid":false,"tickSize":-5,"labelPadding":20,"labelFontSize":23,"labelColor":"#262626","titleFontSize":25,"titleFontWeight":"normal","titleColor":"#262626","titlePadding":1,"domainColor":"#606060","tickColor":"#606060","labelFlush":false}},
"detail":{"field":"k","type":"nominal"}
}},
{"data":{"values":[{"label":"25 °C\u00a0 Activation"}]},
"mark":{"type":"text","align":"right","baseline":"middle","fontSize":19,"font":"DejaVu Sans","color":"black","clip":false},
"encoding":{
"text":{"field":"label","type":"nominal"},
"x":{"datum":0.6965,"type":"quantitative"},
"y":{"datum":0.82,"type":"quantitative","axis":{"orient":"right","title":"BBP Channelpedia ID 34248 rep 1","labels":false,"ticks":false,"domain":false,"grid":false,"titleFontSize":13,"titleFont":"DejaVu Sans","titleFontWeight":"normal","titleColor":"black","titleAngle":270,"titleBaseline":"middle","titlePadding":11}}
}}
]
}
